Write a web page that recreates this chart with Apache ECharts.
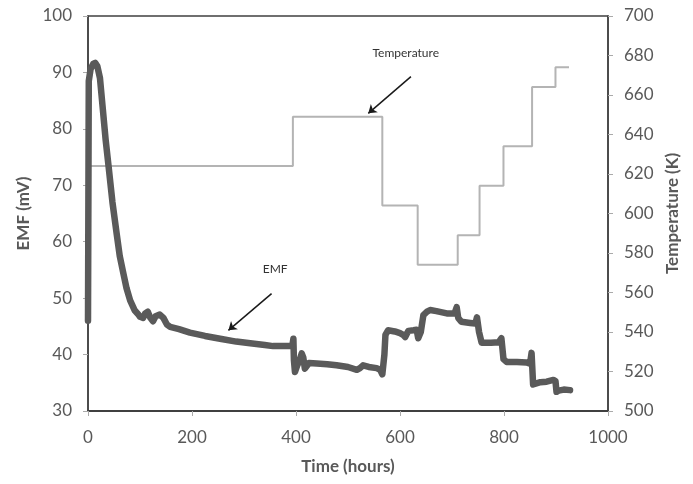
<!DOCTYPE html>
<html>
<head>
<meta charset="utf-8">
<script src="https://cdn.jsdelivr.net/npm/echarts@6/dist/echarts.min.js"></script>
<style>
  html, body { margin: 0; padding: 0; background: #fff; }
  #chart { width: 693px; height: 484px; }
</style>
</head>
<body>
<div id="chart"></div>
<script>
// EMF trace, [hours, mV]
const emfData = [
  [0, 46], [0.5, 60], [1, 75], [1.5, 88.5], [5, 90.6], [10, 91.5], [14, 91.7], [18, 91.1], [23, 89],
  [28, 84], [34, 78], [40, 73], [47, 67], [55, 61.5], [61, 57.5], [68, 54.4], [74, 51.8], [81, 49.6],
  [90, 47.8], [96, 47.2], [100, 46.7], [106, 46.5], [110, 47.3], [115, 47.6], [120, 46.5], [125, 45.9],
  [130, 46.8], [138, 47.1], [145, 46.5], [152, 45.3], [158, 44.9], [175, 44.5], [196, 43.9], [225, 43.3],
  [254, 42.8], [285, 42.3], [312, 42], [340, 41.7], [356, 41.5], [388, 41.5], [393, 41.6], [395, 42.8],
  [396, 39], [398, 36.9], [402, 38], [407, 39], [411, 40.2], [414, 39.5], [417, 37.5], [420, 37.5],
  [425, 38.5], [440, 38.4], [460, 38.3], [478, 38.1], [500, 37.8], [517, 37.3], [523, 37.6], [529, 38.1],
  [540, 37.8], [555, 37.6], [562, 37.3], [566, 36.5], [568, 36.2], [570, 40], [572, 43.5], [577, 44.3],
  [590, 44.1], [600, 43.8], [606, 43.5], [610, 43.1], [616, 44.2], [626, 44.3], [632, 44.4], [635, 42.9],
  [640, 44], [645, 47], [652, 47.6], [658, 47.9], [670, 47.7], [690, 47.3], [705, 47.3], [709, 48.4],
  [712, 46.5], [718, 45.8], [735, 45.6], [745, 45.5], [748, 46.6], [752, 44], [757, 42.1], [775, 42.1],
  [790, 42.2], [795, 42.9], [799, 39.2], [805, 38.7], [825, 38.7], [843, 38.6], [850, 38.4], [853, 40.3],
  [856, 34.7], [870, 35.1], [882, 35.2], [895, 35.5], [899, 35.3], [901, 33.4], [905, 33.6], [915, 33.8],
  [927, 33.7]
];

// Temperature set points, [hours at start of step, K]
const tempData = [
  [0, 624], [394, 649], [566, 604], [634, 574], [711, 589], [753, 614],
  [799, 634], [854, 664], [899, 674], [925, 674]
];

// annotation anchors in data units
const tempLabelAt = [611, 681];
const tempArrow = [[621, 669.3], [539, 650.7]];
const emfLabelAt = [360, 55.2];
const emfArrow = [[353, 50.8], [270, 44.3]];

const xTicks = { min: 0, max: 1000, interval: 200 };
const emfTicks = { min: 30, max: 100, interval: 10 };
const tempTicks = { min: 500, max: 700, interval: 20 };

const chart = echarts.init(document.getElementById('chart'));

const labelStyle = { color: '#595959', fontSize: 17, fontFamily: 'Lato', formatter: v => String(v) };
const nameStyle = { color: '#595959', fontSize: 17, fontWeight: 'bold', fontFamily: 'Lato' };

const option = {
  animation: false,
  grid: {
    left: 88,
    right: 85,
    top: 16,
    bottom: 73,
    show: true,
    borderColor: '#404040',
    borderWidth: 1.5
  },
  xAxis: {
    type: 'value',
    min: xTicks.min,
    max: xTicks.max,
    interval: xTicks.interval,
    name: 'Time (hours)',
    nameLocation: 'middle',
    nameGap: 47,
    nameTextStyle: nameStyle,
    axisLine: { lineStyle: { color: '#404040', width: 2 } },
    axisTick: { length: 5, lineStyle: { color: '#aaaaaa' } },
    axisLabel: Object.assign({ margin: 18 }, labelStyle),
    splitLine: { show: false }
  },
  yAxis: [{
    type: 'value',
    min: emfTicks.min,
    max: emfTicks.max,
    interval: emfTicks.interval,
    name: 'EMF (mV)',
    nameLocation: 'middle',
    nameGap: 56,
    nameTextStyle: nameStyle,
    axisLine: { show: true, lineStyle: { color: '#404040', width: 1.5 } },
    axisTick: { show: true, length: 5, lineStyle: { color: '#aaaaaa' } },
    axisLabel: Object.assign({ margin: 16 }, labelStyle),
    splitLine: { show: false }
  }, {
    type: 'value',
    position: 'right',
    min: tempTicks.min,
    max: tempTicks.max,
    interval: tempTicks.interval,
    name: 'Temperature (K)',
    nameLocation: 'middle',
    nameGap: 56,
    nameRotate: 90,
    nameTextStyle: nameStyle,
    axisLine: { show: true, lineStyle: { color: '#404040', width: 1.5 } },
    axisTick: { show: true, length: 5, lineStyle: { color: '#aaaaaa' } },
    axisLabel: Object.assign({ margin: 16 }, labelStyle),
    splitLine: { show: false }
  }],
  series: [{
    name: 'Temperature',
    type: 'line',
    yAxisIndex: 1,
    step: 'end',
    data: tempData,
    showSymbol: false,
    lineStyle: { color: '#b4b4b4', width: 2 },
    markLine: {
      silent: true,
      symbol: ['none', 'arrow'],
      symbolSize: 8,
      label: { show: false },
      lineStyle: { color: '#1a1a1a', width: 1.5, type: 'solid' },
      data: [[{ coord: tempArrow[0] }, { coord: tempArrow[1] }]]
    },
    markPoint: {
      silent: true,
      symbolSize: 0,
      label: { show: true, position: 'inside', color: '#333', fontSize: 12, fontFamily: 'Lato' },
      data: [{ coord: tempLabelAt, value: 'Temperature' }]
    }
  }, {
    name: 'EMF',
    type: 'line',
    yAxisIndex: 0,
    data: emfData,
    showSymbol: false,
    lineStyle: { color: '#5a5a5a', width: 6.5, join: 'round', cap: 'round' },
    markLine: {
      silent: true,
      symbol: ['none', 'arrow'],
      symbolSize: 8,
      label: { show: false },
      lineStyle: { color: '#1a1a1a', width: 1.5, type: 'solid' },
      data: [[{ coord: emfArrow[0] }, { coord: emfArrow[1] }]]
    },
    markPoint: {
      silent: true,
      symbolSize: 0,
      label: { show: true, position: 'inside', color: '#333', fontSize: 12, fontFamily: 'Lato' },
      data: [{ coord: emfLabelAt, value: 'EMF' }]
    }
  }]
};

chart.setOption(option);
</script>
</body>
</html>
